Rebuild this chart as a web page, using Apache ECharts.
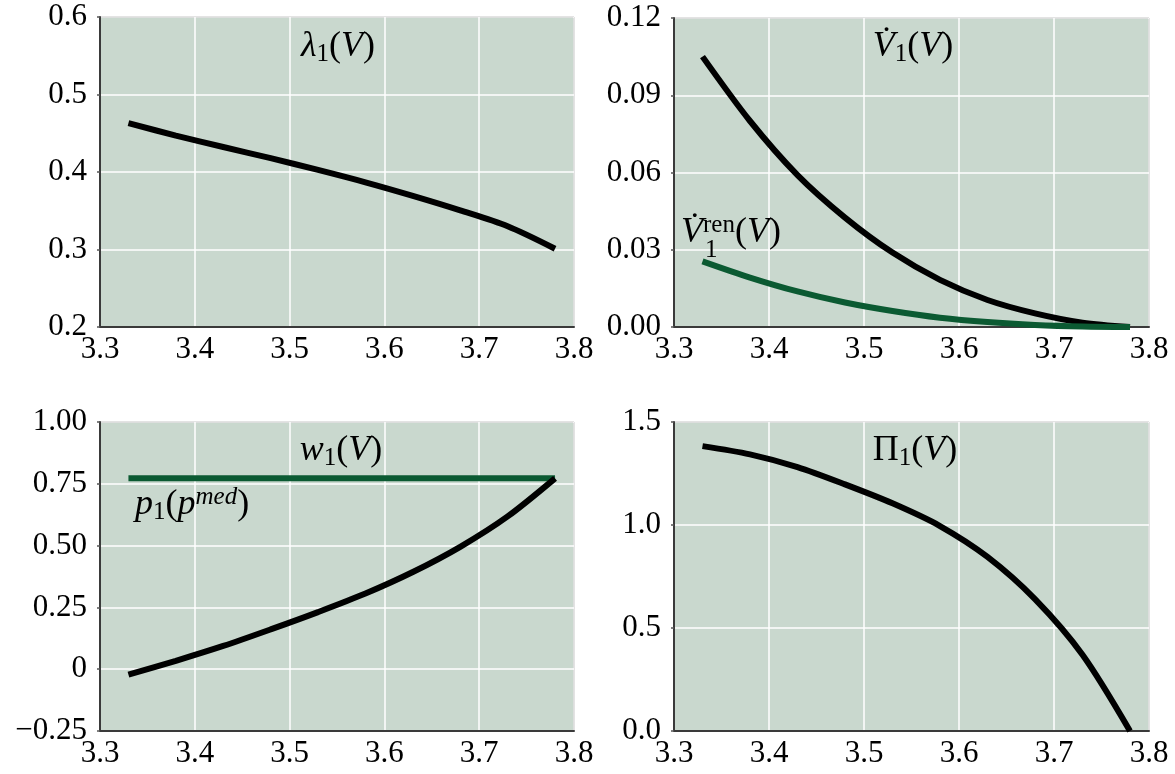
<!DOCTYPE html>
<html>
<head>
<meta charset="utf-8">
<script src="https://cdn.jsdelivr.net/npm/echarts@6/dist/echarts.min.js"></script>
<style>
  html, body { margin: 0; padding: 0; background: #fff; }
  #chart { width: 1175px; height: 774px; }
</style>
</head>
<body>
<div id="chart"></div>
<script>
const vVals = [3.33, 3.38, 3.43, 3.48, 3.53, 3.58, 3.63, 3.68, 3.73, 3.78];
const lambda1 = [0.463, 0.447, 0.4323, 0.4178, 0.4027, 0.3867, 0.3692, 0.3505, 0.330, 0.301];
const vdot1 = [0.105, 0.080, 0.059, 0.0425, 0.0289, 0.0183, 0.0105, 0.0053, 0.0017, 0];
const vdotRen = [0.0255, 0.0192, 0.0138, 0.0095, 0.0062, 0.0036, 0.0019, 0.0008, 0.0002, 0];
const w1 = [-0.022, 0.034, 0.094, 0.161, 0.231, 0.306, 0.393, 0.495, 0.618, 0.772];
const pi1 = [1.383, 1.343, 1.281, 1.197, 1.105, 0.995, 0.845, 0.64, 0.37, 0];
const pMedV = [3.33, 3.78];
const pMed = [0.772, 0.772];

const xTicks = ['3.3', '3.4', '3.5', '3.6', '3.7', '3.8'];
const yTicksLambda = ['0.2', '0.3', '0.4', '0.5', '0.6'];
const yTicksVdot = ['0.00', '0.03', '0.06', '0.09', '0.12'];
const yTicksW = ['\u22120.25', '0', '0.25', '0.50', '0.75', '1.00'];
const yTicksPi = ['0.0', '0.5', '1.0', '1.5'];

const BLACK = '#000';
const GREEN = '#0b5a32';
const BG = '#c9d8ce';
const FONT = 'Liberation Serif';

function pairs(xs, ys) {
  return xs.map((x, i) => [x, ys[i]]);
}

const grids = [
  { left: 100, top: 17, width: 474, height: 310 },
  { left: 674, top: 18, width: 475, height: 309 },
  { left: 100, top: 422, width: 474, height: 309 },
  { left: 674, top: 422, width: 475, height: 309 }
].map(g => Object.assign(g, {
  show: true, backgroundColor: BG, borderColor: '#222', borderWidth: 1
}));

function xAxis(i) {
  return {
    gridIndex: i, type: 'value', min: 3.3, max: 3.8, interval: 0.1,
    axisLine: { show: true, onZero: false, lineStyle: { color: '#3a3a3a', width: 2 } },
    axisTick: { show: false },
    splitLine: { show: true, lineStyle: { color: '#fff', width: 1.5 } },
    axisLabel: {
      fontFamily: FONT, fontSize: 31, color: '#000', margin: 7,
      formatter: (v, idx) => xTicks[idx]
    }
  };
}

function yAxis(i, min, max, interval, labels) {
  return {
    gridIndex: i, type: 'value', min: min, max: max, interval: interval,
    axisLine: { show: true, onZero: false, lineStyle: { color: '#3a3a3a', width: 2 } },
    axisTick: { show: true, length: 3, lineStyle: { color: '#555', width: 1.5 } },
    splitLine: { show: true, lineStyle: { color: '#fff', width: 1.5 } },
    axisLabel: {
      fontFamily: FONT, fontSize: 31, color: '#000', margin: 13,
      formatter: (v, idx) => labels[idx]
    }
  };
}

function line(i, data, color, width) {
  return {
    type: 'line', xAxisIndex: i, yAxisIndex: i, data: data,
    showSymbol: false, smooth: 0.3,
    lineStyle: { color: color, width: width }, silent: true
  };
}

const base = { fontFamily: FONT, fontWeight: 'normal', color: '#000' };
const rich = {
  i: Object.assign({ fontStyle: 'italic', fontSize: 36, lineHeight: 40 }, base),
  n: Object.assign({ fontSize: 36, lineHeight: 40 }, base),
  sub: Object.assign({ fontSize: 25, lineHeight: 17, verticalAlign: 'bottom' }, base),
  sup: Object.assign({ fontSize: 25, lineHeight: 17, verticalAlign: 'top' }, base),
  supi: Object.assign({ fontStyle: 'italic', fontSize: 25, lineHeight: 17, verticalAlign: 'top' }, base)
};

function label(text, left, top, align) {
  return {
    text: text, left: left, top: top, textAlign: align,
    textStyle: { fontWeight: 'normal', fontFamily: FONT, rich: rich }
  };
}

const chart = echarts.init(document.getElementById('chart'));
chart.setOption({
  animation: false,
  backgroundColor: '#fff',
  title: [
    label('{i|\u03bb}{sub|1}{n|(}{i|V}{n|)}', 333, 22, 'center'),
    label('{i|V\u0307}{sub|1}{n|(}{i|V}{n|)}', 908, 22, 'center'),
    label('{i|V\u0307}{sup|ren}{n|(}{i|V}{n|)}', 676, 208, 'left'),
    label('{sub|1}', 700, 241, 'left'),
    label('{i|w}{sub|1}{n|(}{i|V}{n|)}', 336, 426, 'center'),
    label('{i|p}{sub|1}{n|(}{i|p}{supi|med}{n|)}', 130, 480, 'left'),
    label('{n|\u03a0}{sub|1}{n|(}{i|V}{n|)}', 910, 426, 'center')
  ],
  grid: grids,
  xAxis: [xAxis(0), xAxis(1), xAxis(2), xAxis(3)],
  yAxis: [
    yAxis(0, 0.2, 0.6, 0.1, yTicksLambda),
    yAxis(1, 0, 0.12, 0.03, yTicksVdot),
    yAxis(2, -0.25, 1, 0.25, yTicksW),
    yAxis(3, 0, 1.5, 0.5, yTicksPi)
  ],
  series: [
    line(0, pairs(vVals, lambda1), BLACK, 6),
    line(1, pairs(vVals, vdot1), BLACK, 6),
    line(1, pairs(vVals, vdotRen), GREEN, 6),
    line(2, pairs(pMedV, pMed), GREEN, 6),
    line(2, pairs(vVals, w1), BLACK, 6),
    line(3, pairs(vVals, pi1), BLACK, 6)
  ]
});
</script>
</body>
</html>
